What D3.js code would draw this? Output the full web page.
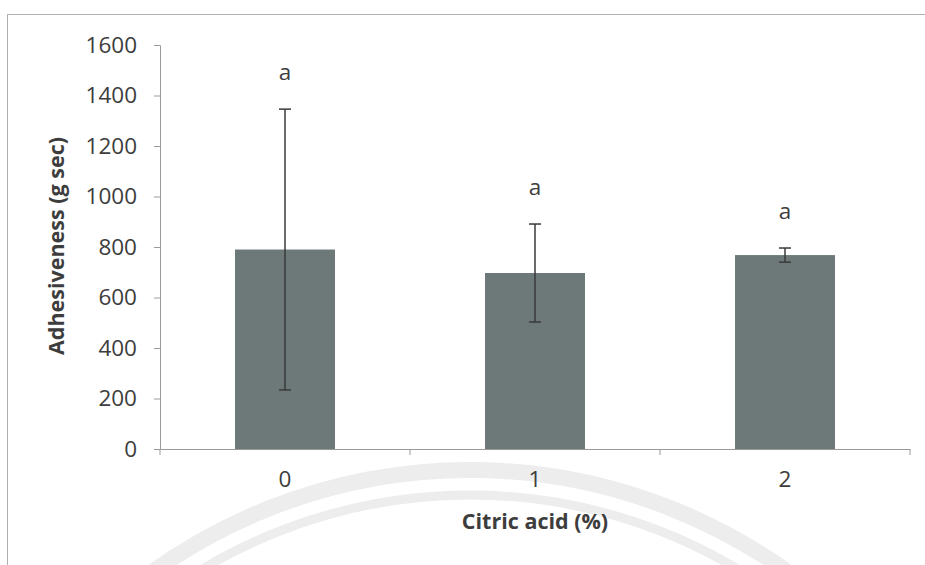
<!DOCTYPE html>
<html><head><meta charset="utf-8">
<script src="https://cdn.jsdelivr.net/npm/d3@7"></script>
<style>body{margin:0;background:#fff;}svg{display:block;font-family:"Open Sans",sans-serif;}</style>
</head><body>
<svg id="c" width="925" height="565"></svg>
<script>
const categories = ["0", "1", "2"];
const means = [790, 697, 768];
const errors = [556, 194, 28];
const letters = ["a", "a", "a"];
const yTicks = [0, 200, 400, 600, 800, 1000, 1200, 1400, 1600];

const svg = d3.select("#c");
const textColor = "#3d3d3d";

// faint watermark
const wm = svg.append("g").attr("fill", "none").attr("stroke", "#ededed");
wm.append("circle").attr("cx", 470).attr("cy", 1015).attr("r", 545).attr("stroke-width", 16);
wm.append("circle").attr("cx", 470).attr("cy", 1015).attr("r", 520).attr("stroke-width", 9);

// border
svg.append("rect").attr("x", 7.5).attr("y", 14.5).attr("width", 940).attr("height", 600)
  .attr("fill", "none").attr("stroke", "#b0b0b0").attr("stroke-width", 1);

const x = d3.scaleBand().domain(categories).range([160, 910]).paddingInner(0.6).paddingOuter(0.3);
const y = d3.scaleLinear().domain([0, 1600]).range([449, 45]);

// bars
svg.append("g").selectAll("rect").data(categories).join("rect")
  .attr("x", d => x(d)).attr("width", x.bandwidth())
  .attr("y", (d, i) => y(means[i])).attr("height", (d, i) => y(0) - y(means[i]))
  .attr("fill", "#6c7978");

// y axis
const yAxis = svg.append("g").attr("transform", "translate(160,0)")
  .call(d3.axisLeft(y).tickValues(yTicks).tickSize(6).tickPadding(17).tickFormat(d3.format("d")));
yAxis.select(".domain").attr("stroke", "#9a9a9a");
yAxis.selectAll(".tick line").attr("stroke", "#9a9a9a");
yAxis.selectAll("text").attr("fill", textColor).style("font-size", "22.5px").style("font-family", "'Open Sans',sans-serif");

// x axis
const xAxis = svg.append("g").attr("transform", "translate(0,449)")
  .call(d3.axisBottom(x).tickSize(0).tickPadding(22));
xAxis.select(".domain").attr("stroke", "#9a9a9a");
xAxis.selectAll("text").attr("fill", textColor).style("font-size", "22.5px").style("font-family", "'Open Sans',sans-serif");
// boundary ticks
const step = x.step();
const bounds = d3.range(categories.length + 1).map(i => x.range()[0] + i * step);
xAxis.selectAll(".btick").data(bounds).join("line").attr("class", "btick")
  .attr("x1", d => d).attr("x2", d => d).attr("y1", 0).attr("y2", 6).attr("stroke", "#9a9a9a");

// error bars
const eb = svg.append("g").attr("stroke", "#3a3a3a").attr("stroke-width", 1.5);
categories.forEach((c, i) => {
  const cx = x(c) + x.bandwidth() / 2;
  eb.append("line").attr("x1", cx).attr("x2", cx).attr("y1", y(means[i] + errors[i])).attr("y2", y(means[i] - errors[i]));
  eb.append("line").attr("x1", cx - 6).attr("x2", cx + 6).attr("y1", y(means[i] + errors[i])).attr("y2", y(means[i] + errors[i]));
  eb.append("line").attr("x1", cx - 6).attr("x2", cx + 6).attr("y1", y(means[i] - errors[i])).attr("y2", y(means[i] - errors[i]));
});

// letters
svg.append("g").selectAll("text").data(categories).join("text")
  .attr("x", d => x(d) + x.bandwidth() / 2)
  .attr("y", (d, i) => y(means[i] + errors[i]) - 29)
  .attr("text-anchor", "middle").attr("fill", textColor).style("font-size", "22.5px")
  .text((d, i) => letters[i]);

// axis titles
svg.append("text").attr("x", 535).attr("y", 529).attr("text-anchor", "middle")
  .attr("fill", textColor).style("font-size", "21.5px").style("font-weight", "bold")
  .text("Citric acid (%)");
svg.append("text").attr("transform", "translate(64,246) rotate(-90)").attr("text-anchor", "middle")
  .attr("fill", textColor).style("font-size", "21.5px").style("font-weight", "bold")
  .text("Adhesiveness (g sec)");
</script>
</body></html>
